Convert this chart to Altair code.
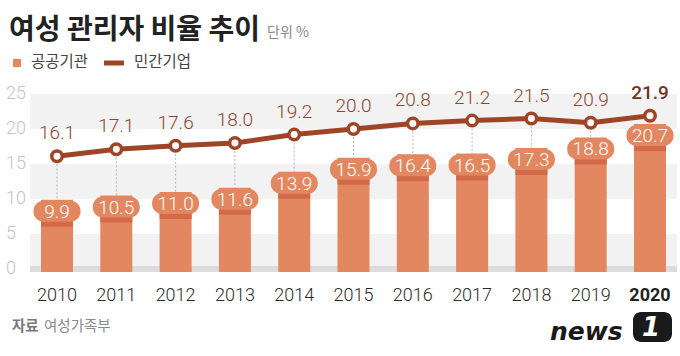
import altair as alt
import pandas as pd

years = [2010, 2011, 2012, 2013, 2014, 2015, 2016, 2017, 2018, 2019, 2020]
public = [9.9, 10.5, 11.0, 11.6, 13.9, 15.9, 16.4, 16.5, 17.3, 18.8, 20.7]
private = [16.1, 17.1, 17.6, 18.0, 19.2, 20.0, 20.8, 21.2, 21.5, 20.9, 21.9]
y_ticks = [0, 5, 10, 15, 20, 25]
band_lo = [0, 10, 20]
band_hi = [5, 15, 25]

title = "여성 관리자 비율 추이"
unit = "단위 %"
legend_public = "공공기관"
legend_private = "민간기업"
source_label = "자료"
source_name = "여성가족부"

BAR = "#e2875f"
BAR_DARK = "#d3694a"
LINE = "#9e4527"
LABEL = "#8a4630"
NUM_FONT = "Roboto"
KR_FONT = "Noto Sans CJK KR"

df = pd.DataFrame({
    "year": years,
    "public": public,
    "private": private,
    "zero": [0] * len(years),
    "public_txt": [f"{v:.1f}" for v in public],
    "private_txt": [f"{v:.1f}" for v in private],
})
ticks_df = pd.DataFrame({"t": y_ticks, "lbl": [str(t) for t in y_ticks]})
bands_df = pd.DataFrame({"lo": band_lo, "hi": band_hi})
one = pd.DataFrame({"k": [0]})

xs = alt.Scale(domain=[2010, 2020], range=[57, 650], nice=False, zero=False, padding=0)
ys = alt.Scale(domain=[0, 25], range=[269, 94], nice=False, zero=False, padding=0)

X = alt.X("year:Q", scale=xs, axis=None)

bands = alt.Chart(bands_df).mark_rect(color="#f2f2f2").encode(
    x=alt.value(30), x2=alt.value(677),
    y=alt.Y("lo:Q", scale=ys, axis=None), y2="hi:Q",
)
baseline = alt.Chart(one).mark_rule(color="#dcdcdc", strokeWidth=6).encode(
    x=alt.value(30), x2=alt.value(677), y=alt.Y("k:Q", scale=ys, axis=None),
)
ylabels = alt.Chart(ticks_df).mark_text(
    align="left", baseline="middle", font=NUM_FONT, fontSize=18, fontWeight=300, color="#c4c4c4"
).encode(x=alt.value(6), y=alt.Y("t:Q", scale=ys, axis=None), text="lbl:N")

base = alt.Chart(df)

bars = base.mark_bar(color=BAR, width=32, y2Offset=3).encode(
    x=X, y=alt.Y("public:Q", scale=ys, axis=None), y2="zero:Q"
)
stripe = base.mark_bar(color=BAR_DARK, width=32, yOffset=21, y2Offset=27).encode(
    x=X, y=alt.Y("public:Q", scale=ys, axis=None), y2="public:Q"
)
dots = base.mark_rule(color="#b8b8b8", strokeWidth=1, strokeDash=[2, 2]).encode(
    x=X, y=alt.Y("private:Q", scale=ys, axis=None), y2="public:Q"
)
pills = base.mark_bar(color=BAR, width=47, cornerRadius=10, yOffset=1, y2Offset=22).encode(
    x=X, y=alt.Y("public:Q", scale=ys, axis=None), y2="public:Q"
)
pill_text = base.mark_text(
    color="white", font=NUM_FONT, fontSize=19, fontWeight=300, baseline="middle", dy=12
).encode(x=X, y=alt.Y("public:Q", scale=ys, axis=None), text="public_txt:N")

line = base.mark_line(color=LINE, strokeWidth=5).encode(
    x=X, y=alt.Y("private:Q", scale=ys, axis=None)
)
points = base.mark_point(
    filled=True, fill="white", stroke=LINE, strokeWidth=3.5, size=110, opacity=1
).encode(x=X, y=alt.Y("private:Q", scale=ys, axis=None))

line_text = base.transform_filter(alt.datum.year < 2020).mark_text(
    color=LABEL, font=NUM_FONT, fontSize=19, fontWeight=300, baseline="middle", dy=-23
).encode(x=X, y=alt.Y("private:Q", scale=ys, axis=None), text="private_txt:N")
line_text_last = base.transform_filter(alt.datum.year == 2020).mark_text(
    color="#6e3523", font=NUM_FONT, fontSize=19, fontWeight=500, baseline="middle", dy=-23
).encode(x=X, y=alt.Y("private:Q", scale=ys, axis=None), text="private_txt:N")

xlabels = base.transform_filter(alt.datum.year < 2020).mark_text(
    color="#2a2a2a", font=NUM_FONT, fontSize=18, fontWeight=300, baseline="middle"
).encode(x=X, y=alt.value(296), text="year:N")
xlabel_last = base.transform_filter(alt.datum.year == 2020).mark_text(
    color="#222222", font=NUM_FONT, fontSize=18, fontWeight="bold", baseline="middle"
).encode(x=X, y=alt.value(296), text="year:N")

title_t = alt.Chart(one).mark_text(
    text=title, font=KR_FONT, fontSize=28, fontWeight="bold", color="#222222",
    align="left", baseline="alphabetic"
).encode(x=alt.value(9), y=alt.value(39))
unit_t = alt.Chart(one).mark_text(
    text=unit, font=KR_FONT, fontSize=14, color="#8a8a8a", align="left", baseline="alphabetic"
).encode(x=alt.value(267), y=alt.value(37))

leg_sq = alt.Chart(one).mark_rect(color=BAR).encode(
    x=alt.value(13), x2=alt.value(21), y=alt.value(59), y2=alt.value(67)
)
leg_t1 = alt.Chart(one).mark_text(
    text=legend_public, font=KR_FONT, fontSize=15.5, color="#444444", align="left", baseline="middle"
).encode(x=alt.value(31), y=alt.value(62))
leg_ln = alt.Chart(one).mark_rect(color=LINE).encode(
    x=alt.value(104), x2=alt.value(124), y=alt.value(60.5), y2=alt.value(65.5)
)
leg_t2 = alt.Chart(one).mark_text(
    text=legend_private, font=KR_FONT, fontSize=15.5, color="#444444", align="left", baseline="middle"
).encode(x=alt.value(134), y=alt.value(62))

src1 = alt.Chart(one).mark_text(
    text=source_label, font=KR_FONT, fontSize=14.5, fontWeight="bold", color="#777777",
    align="left", baseline="middle"
).encode(x=alt.value(12), y=alt.value(327))
src2 = alt.Chart(one).mark_text(
    text=source_name, font=KR_FONT, fontSize=14.5, color="#8a8a8a", align="left", baseline="middle"
).encode(x=alt.value(44), y=alt.value(327))

logo_news = alt.Chart(one).mark_text(
    text="news", font="DejaVu Sans", fontSize=25, fontWeight="bold", fontStyle="italic",
    color="#1a1a1a", align="left", baseline="alphabetic"
).encode(x=alt.value(550), y=alt.value(340))
logo_box = alt.Chart(one).mark_rect(color="#1a1a1a", cornerRadius=8).encode(
    x=alt.value(633), x2=alt.value(672), y=alt.value(312), y2=alt.value(342)
)
logo_one = alt.Chart(one).mark_text(
    text="1", font="DejaVu Sans", fontSize=26, fontWeight="bold", fontStyle="italic",
    color="white", align="center", baseline="middle"
).encode(x=alt.value(651), y=alt.value(328))

chart = alt.layer(
    bands, baseline, ylabels, dots, bars, stripe, pills, pill_text,
    line, points, line_text, line_text_last, xlabels, xlabel_last,
    title_t, unit_t, leg_sq, leg_t1, leg_ln, leg_t2, src1, src2,
    logo_news, logo_box, logo_one,
).properties(
    width=680, height=356, autosize=alt.AutoSizeParams(type="none"), padding=0,
    background="white",
).configure_view(stroke=None)

chart.save("out.html", embed_options={"renderer": "svg", "actions": False})
